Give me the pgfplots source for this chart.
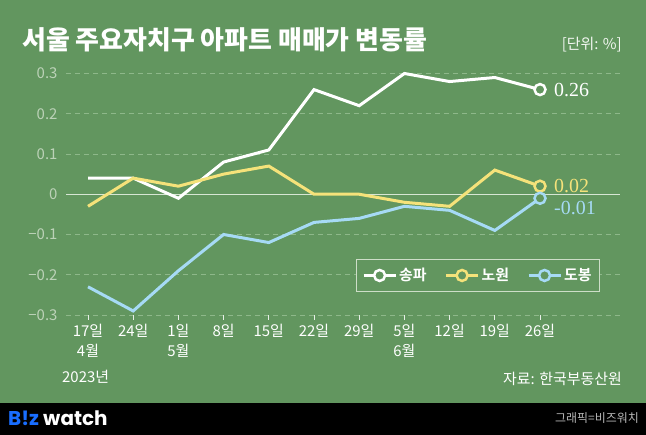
\documentclass[border=0pt]{standalone}
\usepackage{fontspec}
\setmainfont{Noto Sans CJK KR}[BoldFont={Noto Sans CJK KR Bold}]
\newfontfamily\titlefont{Noto Sans CJK KR Black}
\newfontfamily\numserif{Liberation Serif}
\newfontfamily\logofont{Poppins}[BoldFont={Poppins Bold}]
\usepackage{pgfplots}
\pgfplotsset{compat=1.18}
\definecolor{bggreen}{RGB}{98,150,95}
\definecolor{gridgreen}{RGB}{142,184,138}
\definecolor{zerocol}{RGB}{215,230,212}
\definecolor{ylab}{RGB}{188,210,184}
\definecolor{ylw}{RGB}{245,226,122}
\definecolor{blu}{RGB}{166,218,245}
\definecolor{legbord}{RGB}{205,222,200}
\definecolor{logoblue}{RGB}{25,110,255}
\begin{document}
\begin{tikzpicture}[x=1bp,y=1bp]
\fill[bggreen] (0,0) rectangle (646,435);
\fill[black] (0,0) rectangle (646,32);
\node[anchor=west, text=white, font=\titlefont\fontsize{26}{26}\selectfont, inner sep=0] at (22,395) {서울 주요자치구 아파트 매매가 변동률};
\node[anchor=east, text=white!92!bggreen, font=\fontsize{15}{15}\selectfont, inner sep=0] at (622,390) {[단위: \%]};
\node[anchor=west, text=white, font=\fontsize{15}{15}\selectfont, inner sep=0] at (62,58) {2023년};
\node[anchor=east, text=white, font=\fontsize{15}{15}\selectfont, inner sep=0] at (622,56) {자료: 한국부동산원};
\node[anchor=west, font=\logofont\bfseries\fontsize{20}{20}\selectfont, inner sep=0] at (8,17) {\textcolor{logoblue}{B!z} \textcolor{white}{watch}};
\node[anchor=east, text=white!72!black, font=\fontsize{12}{12}\selectfont, inner sep=0] at (639,17) {그래픽=비즈워치};
\begin{axis}[
  at={(66bp,120bp)}, anchor=south west, scale only axis,
  width=554bp, height=241.5bp,
  xmin=-0.487, xmax=11.77, ymin=-0.3, ymax=0.3,
  axis line style={draw=none}, clip=false,
  xtick={0,...,10},
  xticklabels={17일\\4월, 24일, 1일\\5월, 8일, 15일, 22일, 29일, 5일\\6월, 12일, 19일, 26일},
  xticklabel style={align=center, font=\fontsize{15}{20}\selectfont, text=white, yshift=-1bp},
  xtick pos=bottom, tick align=outside, major tick length=5bp,
  xtick style={draw=white!85!bggreen, line width=0.9bp},
  ytick={-0.3,-0.2,-0.1,0,0.1,0.2,0.3},
  yticklabels={−0.3,−0.2,−0.1,0,0.1,0.2,0.3},
  ytick style={draw=none},
  yticklabel style={text=ylab, font=\fontsize{15}{15}\selectfont},
  ymajorgrids,
  grid style={gridgreen, line width=0.9bp, dash pattern=on 5bp off 4bp},
  legend style={at={(0.964,0.232)}, anchor=north east, draw=legbord, fill=bggreen,
    line width=1bp, font=\bfseries\fontsize{15}{15}\selectfont, text=white,
    inner xsep=6bp, inner ysep=7bp,
    /tikz/every even column/.append style={column sep=16bp}},
  legend columns=3,
]
\addplot[zerocol, line width=1bp, forget plot] coordinates {(-0.487,0) (11.77,0)};
\addplot[white, line width=3bp, mark=*, mark indices={11}, mark size=5.5bp,
  mark options={fill=bggreen, line width=2.5bp},
  legend image code/.code={\draw[white, line width=3bp] (0bp,0bp) -- (32bp,0bp);
    \draw[white, line width=2.5bp, fill=bggreen] (16bp,0bp) circle (5.5bp);}]
  coordinates {(0,0.04) (1,0.04) (2,-0.01) (3,0.08) (4,0.11) (5,0.26) (6,0.22) (7,0.30) (8,0.28) (9,0.29) (10,0.26)};
\addlegendentry{송파}
\addplot[ylw, line width=3bp, mark=*, mark indices={11}, mark size=5.5bp,
  mark options={fill=bggreen, line width=2.5bp},
  legend image code/.code={\draw[ylw, line width=3bp] (0bp,0bp) -- (32bp,0bp);
    \draw[ylw, line width=2.5bp, fill=bggreen] (16bp,0bp) circle (5.5bp);}]
  coordinates {(0,-0.03) (1,0.04) (2,0.02) (3,0.05) (4,0.07) (5,0.00) (6,0.00) (7,-0.02) (8,-0.03) (9,0.06) (10,0.02)};
\addlegendentry{노원}
\addplot[blu, line width=3bp, mark=*, mark indices={11}, mark size=5.5bp,
  mark options={fill=bggreen, line width=2.5bp},
  legend image code/.code={\draw[blu, line width=3bp] (0bp,0bp) -- (32bp,0bp);
    \draw[blu, line width=2.5bp, fill=bggreen] (16bp,0bp) circle (5.5bp);}]
  coordinates {(0,-0.23) (1,-0.29) (2,-0.19) (3,-0.10) (4,-0.12) (5,-0.07) (6,-0.06) (7,-0.03) (8,-0.04) (9,-0.09) (10,-0.01)};
\addlegendentry{도봉}
\node[anchor=west, text=white, font=\numserif\fontsize{20}{20}\selectfont, inner sep=0] at ([xshift=14bp]axis cs:10,0.26) {0.26};
\node[anchor=west, text=ylw, font=\numserif\fontsize{20}{20}\selectfont, inner sep=0] at ([xshift=14bp]axis cs:10,0.02) {0.02};
\node[anchor=west, text=blu, font=\numserif\fontsize{20}{20}\selectfont, inner sep=0] at ([xshift=14bp,yshift=-10bp]axis cs:10,-0.01) {-0.01};
\end{axis}
\pgfresetboundingbox
\useasboundingbox (0,0) rectangle (646,435);
\end{tikzpicture}
\end{document}
